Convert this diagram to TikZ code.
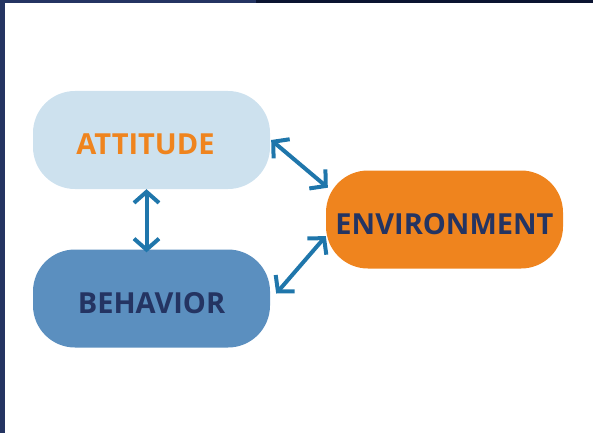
\documentclass[tikz,border=0pt]{standalone}
\usepackage{fontspec}
\setmainfont{Open Sans}
\usetikzlibrary{arrows.meta}
\definecolor{navy}{HTML}{243462}
\definecolor{darknavy}{HTML}{0B1431}
\definecolor{paleblue}{HTML}{CDE1EE}
\definecolor{midblue}{HTML}{5B8FBF}
\definecolor{orangeish}{HTML}{EF841E}
\definecolor{arrowblue}{HTML}{1F76AB}

\begin{document}
\begin{tikzpicture}[x=1pt,y=-1pt]
	\tikzset{factor/.style={rectangle, rounded corners=42pt, minimum width=237pt, minimum height=98pt,
		inner sep=0pt, text height=29pt, text depth=0pt, font=\fontsize{29}{31}\selectfont\bfseries}}
	\tikzset{link/.style={draw=arrowblue, line width=4pt, {Straight Barb[length=11pt,width=25pt]}-{Straight Barb[length=11pt,width=25pt]}}}
	\useasboundingbox (0,0) rectangle (593,433);
	% frame
	\fill[navy] (0,0) rectangle (256,3);
	\fill[darknavy] (256,0) rectangle (593,3);
	\fill[navy] (0,0) rectangle (5,433);
	% boxes
	\node[factor, fill=paleblue, text=orangeish] (att) at (151.5,140) {ATTITUDE\hspace*{12pt}};
	\node[factor, fill=midblue, text=navy] (beh) at (151.5,298.5) {BEHAVIOR};
	\node[factor, fill=orangeish, text=navy] (env) at (444.5,219.5) {ENVIRONMENT};
	% links
	\draw[link] ([xshift=-5pt]att.south) -- ([xshift=-5pt,yshift=-3pt]beh.north);
	\draw[link] ([xshift=1pt]att.east) -- ([xshift=2pt]env.165);
	\draw[link] ([xshift=6pt,yshift=5pt]beh.east) -- (env.188);
\end{tikzpicture}
\end{document}
